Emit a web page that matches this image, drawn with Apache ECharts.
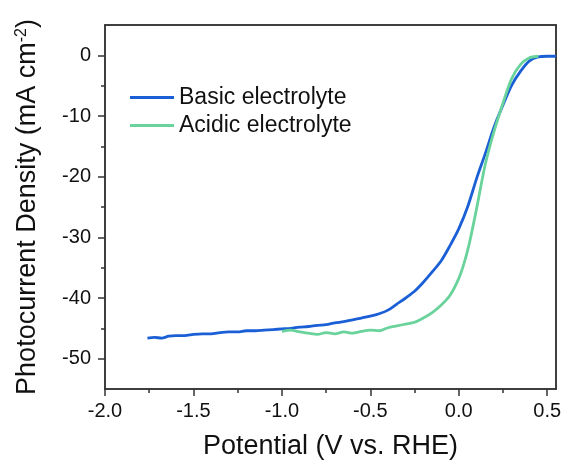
<!DOCTYPE html>
<html>
<head>
<meta charset="utf-8">
<script src="https://cdn.jsdelivr.net/npm/echarts@6/dist/echarts.min.js"></script>
<style>html,body{margin:0;padding:0;background:#fff}#c{width:565px;height:466px}</style>
</head>
<body>
<div id="c"></div>
<script>
const seriesNames = ['Basic electrolyte', 'Acidic electrolyte'];

const basicX = [-1.76,-1.72,-1.68,-1.64,-1.60,-1.55,-1.50,-1.45,-1.40,-1.35,-1.30,-1.25,-1.20,-1.15,-1.10,-1.05,-1.00,-0.95,-0.90,-0.85,-0.80,-0.75,-0.70,-0.65,-0.60,-0.55,-0.50,-0.45,-0.40,-0.35,-0.30,-0.25,-0.20,-0.15,-0.10,-0.05,0.00,0.05,0.10,0.15,0.20,0.25,0.30,0.35,0.40,0.45,0.50,0.55];
const basicY = [-46.6,-46.5,-46.6,-46.3,-46.2,-46.2,-46.0,-45.9,-45.9,-45.7,-45.6,-45.6,-45.4,-45.4,-45.3,-45.2,-45.1,-45.0,-44.8,-44.7,-44.5,-44.4,-44.1,-43.9,-43.6,-43.3,-43.0,-42.6,-42.0,-41.0,-40.0,-38.9,-37.4,-35.7,-33.9,-31.4,-28.6,-25.0,-20.4,-16.2,-11.8,-8.2,-4.9,-2.6,-0.9,-0.25,-0.15,-0.15];

const acidicX = [-1.00,-0.95,-0.90,-0.85,-0.80,-0.75,-0.70,-0.65,-0.60,-0.55,-0.50,-0.45,-0.40,-0.35,-0.30,-0.25,-0.20,-0.15,-0.10,-0.05,0.00,0.03,0.06,0.10,0.15,0.20,0.25,0.30,0.35,0.40,0.45];
const acidicY = [-45.5,-45.3,-45.6,-45.8,-46.0,-45.7,-45.9,-45.6,-45.8,-45.5,-45.3,-45.4,-44.9,-44.6,-44.3,-44.0,-43.3,-42.4,-41.2,-39.6,-36.8,-34.3,-31.0,-25.4,-18.0,-12.5,-7.9,-3.8,-1.5,-0.4,-0.15];

const xMajorTicks = [-2.0,-1.5,-1.0,-0.5,0.0,0.5];
const xMinorTicks = [-1.75,-1.25,-0.75,-0.25,0.25];
const yMajorTicks = [0,-10,-20,-30,-40,-50];
const yMinorTicks = [-5,-15,-25,-35,-45];

const pairs = (xs, ys) => xs.map((x, i) => [x, ys[i]]);
const txt = '#111';
const axisColor = '#333';
const font = 'Liberation Sans, Arial, sans-serif';
const lineSt = { color: axisColor, width: 1.5 };

const chart = echarts.init(document.getElementById('c'));
chart.setOption({
  backgroundColor: '#fff',
  animation: false,
  grid: { left: 105, right: 9, top: 25, bottom: 77, show: true, borderColor: axisColor, borderWidth: 1.5, backgroundColor: 'rgba(255,255,255,0)' },
  legend: {
    orient: 'vertical', left: 130, top: 86, itemGap: 5, padding: 0,
    itemWidth: 44, itemHeight: 3, icon: 'rect',
    textStyle: { fontSize: 23, color: txt, fontFamily: font },
    data: seriesNames
  },
  xAxis: [{
    type: 'value', min: -2.0, max: 0.55, position: 'bottom',
    name: 'Potential (V vs. RHE)', nameLocation: 'middle', nameGap: 44,
    nameTextStyle: { fontSize: 27, color: txt, fontFamily: font },
    axisLine: { show: true, onZero: false, lineStyle: lineSt },
    axisTick: { show: true, inside: false, length: 7, customValues: xMajorTicks, lineStyle: lineSt },
    axisLabel: { customValues: xMajorTicks, margin: 12, fontSize: 20, color: txt, fontFamily: font, formatter: v => v.toFixed(1) },
    splitLine: { show: false }
  }, {
    type: 'value', min: -2.0, max: 0.55, position: 'bottom', offset: 0,
    axisLine: { show: false, onZero: false },
    axisTick: { show: true, length: 4, customValues: xMinorTicks, lineStyle: lineSt },
    axisLabel: { show: false },
    splitLine: { show: false }
  }, {
    type: 'value', min: -2.0, max: 0.55, position: 'top', offset: 0,
    axisLine: { show: true, onZero: false, lineStyle: lineSt },
    axisTick: { show: false }, axisLabel: { show: false }, splitLine: { show: false }
  }],
  yAxis: [{
    type: 'value', min: -55, max: 5, position: 'left',
    name: '{a|Photocurrent Density (mA cm}{s|-2}{a|)}', nameLocation: 'middle', nameGap: 63, nameRotate: 90,
    nameTextStyle: { color: txt, fontFamily: font, rich: { a: { fontSize: 27, color: txt, fontFamily: font }, s: { fontSize: 16, color: txt, fontFamily: font, verticalAlign: 'top', padding: [0,0,12,0] } } },
    axisLine: { show: true, onZero: false, lineStyle: lineSt },
    axisTick: { show: true, inside: false, length: 7, customValues: yMajorTicks, lineStyle: lineSt },
    axisLabel: { customValues: yMajorTicks, margin: 14, fontSize: 20, color: txt, fontFamily: font },
    splitLine: { show: false }
  }, {
    type: 'value', min: -55, max: 5, position: 'left', offset: 0,
    axisLine: { show: false, onZero: false },
    axisTick: { show: true, length: 4, customValues: yMinorTicks, lineStyle: lineSt },
    axisLabel: { show: false },
    splitLine: { show: false }
  }, {
    type: 'value', min: -55, max: 5, position: 'right', offset: 0,
    axisLine: { show: true, onZero: false, lineStyle: lineSt },
    axisTick: { show: false }, axisLabel: { show: false }, splitLine: { show: false }
  }],
  series: [{
    name: seriesNames[0], type: 'line', xAxisIndex: 0, yAxisIndex: 0,
    data: pairs(basicX, basicY), showSymbol: false, smooth: 0.3,
    lineStyle: { color: '#1B5FD6', width: 2.8 }, itemStyle: { color: '#1B5FD6' }
  }, {
    name: seriesNames[1], type: 'line', xAxisIndex: 0, yAxisIndex: 0,
    data: pairs(acidicX, acidicY), showSymbol: false, smooth: 0.3,
    lineStyle: { color: '#6AD39C', width: 2.8 }, itemStyle: { color: '#6AD39C' }
  }, {
    type: 'line', xAxisIndex: 2, yAxisIndex: 2, data: [], silent: true
  }]
});
</script>
</body>
</html>
